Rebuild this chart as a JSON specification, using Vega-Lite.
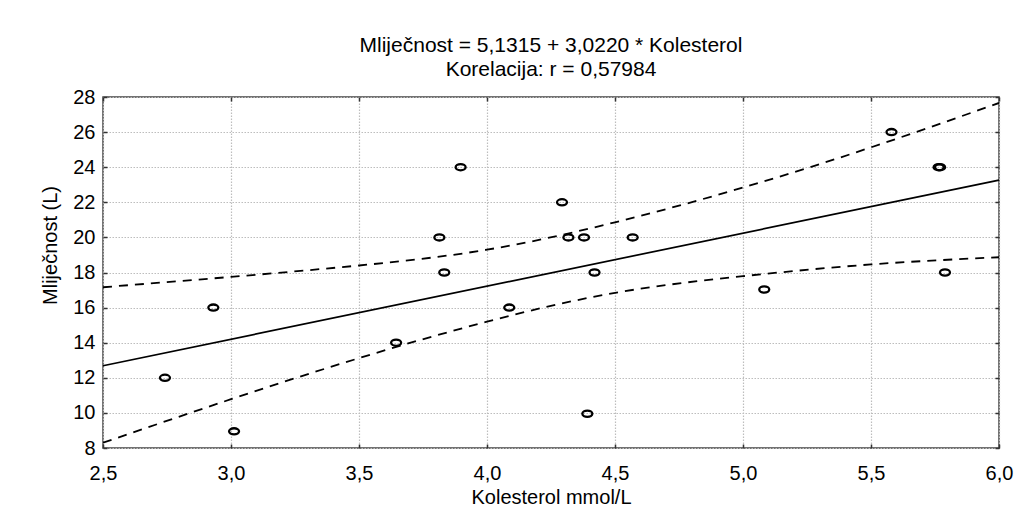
{
  "$schema": "https://vega.github.io/schema/vega-lite/v6.json",
  "width": 896,
  "height": 351,
  "autosize": "none",
  "padding": {"left": 103, "top": 97, "right": 17, "bottom": 70},
  "background": "white",
  "title": {
    "text": ["Mliječnost = 5,1315 + 3,0220 * Kolesterol", "Korelacija: r = 0,57984"],
    "font": "Liberation Sans",
    "fontSize": 21,
    "fontWeight": "normal",
    "color": "black",
    "lineHeight": 24,
    "offset": 7,
    "anchor": "middle"
  },
  "config": {
    "view": {"stroke": "#444444", "strokeWidth": 1.5},
    "font": "Liberation Sans"
  },
  "datasets": {
    "points": [
      {"kolesterol": 2.742, "mlijecnost": 12},
      {"kolesterol": 2.931, "mlijecnost": 16},
      {"kolesterol": 3.012, "mlijecnost": 8.95},
      {"kolesterol": 3.645, "mlijecnost": 14},
      {"kolesterol": 3.814, "mlijecnost": 20},
      {"kolesterol": 3.833, "mlijecnost": 18},
      {"kolesterol": 3.897, "mlijecnost": 24},
      {"kolesterol": 4.087, "mlijecnost": 16},
      {"kolesterol": 4.293, "mlijecnost": 22},
      {"kolesterol": 4.318, "mlijecnost": 20},
      {"kolesterol": 4.379, "mlijecnost": 20},
      {"kolesterol": 4.392, "mlijecnost": 9.95},
      {"kolesterol": 4.42, "mlijecnost": 18},
      {"kolesterol": 4.569, "mlijecnost": 20},
      {"kolesterol": 5.083, "mlijecnost": 17.03},
      {"kolesterol": 5.58, "mlijecnost": 26},
      {"kolesterol": 5.764, "mlijecnost": 24},
      {"kolesterol": 5.77, "mlijecnost": 24},
      {"kolesterol": 5.789, "mlijecnost": 18}
    ],
    "fit": [
      {"kolesterol": 2.5, "mlijecnost": 12.687},
      {"kolesterol": 6.0, "mlijecnost": 23.264}
    ],
    "band": [
      {"band": "upper", "kolesterol": 2.5, "mlijecnost": 17.16},
      {"band": "upper", "kolesterol": 3.0, "mlijecnost": 17.75},
      {"band": "upper", "kolesterol": 3.5, "mlijecnost": 18.4},
      {"band": "upper", "kolesterol": 4.0, "mlijecnost": 19.3},
      {"band": "upper", "kolesterol": 4.5, "mlijecnost": 20.86},
      {"band": "upper", "kolesterol": 5.0, "mlijecnost": 22.84},
      {"band": "upper", "kolesterol": 5.5, "mlijecnost": 25.13},
      {"band": "upper", "kolesterol": 6.0, "mlijecnost": 27.66},
      {"band": "lower", "kolesterol": 2.5, "mlijecnost": 8.3},
      {"band": "lower", "kolesterol": 3.0, "mlijecnost": 10.78},
      {"band": "lower", "kolesterol": 3.5, "mlijecnost": 13.12},
      {"band": "lower", "kolesterol": 4.0, "mlijecnost": 15.2},
      {"band": "lower", "kolesterol": 4.5, "mlijecnost": 16.84},
      {"band": "lower", "kolesterol": 5.0, "mlijecnost": 17.79},
      {"band": "lower", "kolesterol": 5.5, "mlijecnost": 18.46},
      {"band": "lower", "kolesterol": 6.0, "mlijecnost": 18.87}
    ]
  },
  "layer": [
    {
      "data": {"name": "band"},
      "mark": {"type": "line", "color": "black", "strokeWidth": 1.8, "strokeDash": [9, 7], "interpolate": "natural", "clip": true},
      "encoding": {
        "x": {"field": "kolesterol", "type": "quantitative", "scale": {"domain": [2.5, 6], "nice": false, "zero": false}, "axis": null},
        "y": {"field": "mlijecnost", "type": "quantitative", "scale": {"domain": [8, 28], "nice": false, "zero": false}, "axis": null},
        "detail": {"field": "band"}
      }
    },
    {
      "data": {"name": "fit"},
      "mark": {"type": "line", "color": "black", "strokeWidth": 1.7},
      "encoding": {
        "x": {"field": "kolesterol", "type": "quantitative", "scale": {"domain": [2.5, 6], "nice": false, "zero": false},
          "axis": {"orient": "top", "values": [2.5, 3, 3.5, 4, 4.5, 5, 5.5, 6], "labels": false, "grid": false, "domain": false, "tickSize": -4, "tickColor": "#333333", "tickWidth": 1.5, "title": null}},
        "y": {"field": "mlijecnost", "type": "quantitative", "scale": {"domain": [8, 28], "nice": false, "zero": false},
          "axis": {"orient": "right", "values": [8, 10, 12, 14, 16, 18, 20, 22, 24, 26, 28], "labels": false, "grid": false, "domain": false, "tickSize": -4, "tickColor": "#333333", "tickWidth": 1.5, "title": null}}
      }
    },
    {
      "data": {"name": "points"},
      "mark": {"type": "point", "shape": "M -1 0 A 1 0.62 0 1 1 1 0 A 1 0.62 0 1 1 -1 0 Z", "size": 100, "filled": false, "stroke": "black", "strokeWidth": 2.3, "opacity": 1},
      "encoding": {
        "x": {"field": "kolesterol", "type": "quantitative", "scale": {"domain": [2.5, 6], "nice": false, "zero": false},
          "axis": {"orient": "bottom", "values": [2.5, 3, 3.5, 4, 4.5, 5, 5.5, 6], "labelExpr": "replace(format(datum.value, '.1f'), '.', ',')", "labelFlush": false, "labelOverlap": false, "grid": true, "gridColor": "#bdbdbd", "gridDash": [1.5, 1.5], "gridWidth": 1.2, "domain": false, "tickSize": -4, "tickColor": "#333333", "tickWidth": 1.5, "labelPadding": 19, "labelFontSize": 20, "labelColor": "black", "labelFont": "Liberation Sans", "title": "Kolesterol mmol/L", "titleFont": "Liberation Sans", "titleFontSize": 20, "titleFontWeight": "normal", "titleColor": "black", "titleY": 49, "titleBaseline": "middle"}},
        "y": {"field": "mlijecnost", "type": "quantitative", "scale": {"domain": [8, 28], "nice": false, "zero": false},
          "axis": {"orient": "left", "values": [8, 10, 12, 14, 16, 18, 20, 22, 24, 26, 28], "labelOverlap": false, "labelFlush": false, "grid": true, "gridColor": "#bdbdbd", "gridDash": [1.5, 1.5], "gridWidth": 1.2, "domain": false, "tickSize": -4, "tickColor": "#333333", "tickWidth": 1.5, "labelPadding": 12, "labelFontSize": 20, "labelColor": "black", "labelFont": "Liberation Sans", "title": "Mliječnost (L)", "titleFont": "Liberation Sans", "titleFontSize": 20, "titleFontWeight": "normal", "titleColor": "black", "titleX": -53, "titleY": 148, "titleBaseline": "middle", "titleAngle": -90}}
      }
    }
  ],
  "resolve": {"axis": {"x": "independent", "y": "independent"}}
}
